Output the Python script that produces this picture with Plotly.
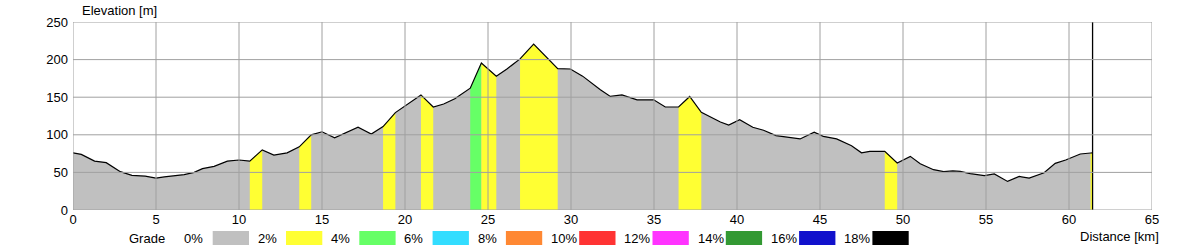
import plotly.graph_objects as go

# ---------------- data ----------------
dist_km = [0.0, 0.5, 1.3, 2.0, 2.85, 3.55, 4.35, 5.0, 5.5, 6.1, 6.7, 7.3, 7.8, 8.5, 9.3, 10.0,
           10.65, 11.4, 12.1, 12.9, 13.63, 14.35, 15.0, 15.76, 16.5, 17.17, 17.97, 18.68, 19.42,
           20.0, 20.96, 21.7, 22.33, 23.0, 23.93, 24.6, 25.5, 26.14, 26.93, 27.75, 29.2, 29.96,
           30.7, 31.77, 32.37, 33.07, 33.98, 34.98, 35.68, 36.48, 37.15, 37.85, 39.0, 39.5, 40.16,
           40.95, 41.6, 42.35, 43.3, 43.8, 44.65, 45.2, 46.0, 46.9, 47.5, 48.0, 48.9, 49.65,
           50.44, 51.04, 51.84, 52.45, 53.0, 53.45, 54.05, 54.9, 55.5, 56.3, 57.0, 57.6, 58.5,
           59.17, 59.8, 60.68, 61.3, 61.42]
elev_m = [76, 74, 65, 63, 51, 46, 45, 42.5, 44, 45, 47, 50, 55, 58, 65, 66.5,
          65, 80, 73, 76, 84, 100, 104, 96, 103, 110, 101, 111, 129.5,
          138, 153, 137, 141, 148, 162, 195.5, 178, 187.5, 201, 220.5, 188, 187.5,
          178, 160, 151, 153, 146.5, 146.5, 137, 137, 151, 130, 117, 113, 120,
          110, 106, 99, 96.5, 94.5, 103.5, 98, 94.5, 85.5, 76, 78, 78, 62.5,
          71.3, 61.6, 53.6, 51, 52, 51.4, 48.3, 45.6, 48, 38, 44.7, 42.5, 49.5,
          62, 66.5, 74.5, 75.8, 76]
# grade class of each interval between consecutive points (0: 0-2%, 1: 2-4%, 2: 4-6%, ...)
grade_class = [0, 0, 0, 0, 0, 0, 0, 0, 0, 0,   # intervals 0-9
               0, 0, 0, 0, 0, 0, 1, 0, 0, 0,   # 10-19
               1, 0, 0, 0, 0, 0, 0, 1, 0, 0,   # 20-29
               1, 0, 0, 0, 2, 1, 0, 0, 1, 1,   # 30-39
               0, 0, 0, 0, 0, 0, 0, 0, 0, 1,   # 40-49
               1, 0, 0, 0, 0, 0, 0, 0, 0, 0,   # 50-59
               0, 0, 0, 0, 0, 0, 1, 0, 0, 0,   # 60-69
               0, 0, 0, 0, 0, 0, 0, 0, 0, 0,   # 70-79
               0, 0, 0, 0, 1]                  # 80-84
grade_labels = ["0%", "2%", "4%", "6%", "8%", "10%", "12%", "14%", "16%", "18%"]
grade_colors = ["#C0C0C0", "#FFFF33", "#66FF66", "#33DDFF", "#FF8833",
                "#FF3333", "#FF33FF", "#339933", "#1111CC", "#000000"]
x_ticks = list(range(0, 66, 5))
y_ticks = list(range(0, 251, 50))

# ---------------- layout constants ----------------
ML, MR, MT, MB = 73, 48, 22, 40
W, H = 1200, 250
PW, PH = W - ML - MR, H - MT - MB
FONT = "Liberation Sans, Arial, sans-serif"
GRID = "#A0A0A0"


def px(xp):
    return (xp - ML) / PW


def py(yp):
    return (H - MB - yp) / PH


fig = go.Figure()

# base grey area
fig.add_trace(go.Scatter(x=dist_km, y=elev_m, mode="lines", fill="tozeroy",
                         fillcolor=grade_colors[0], line=dict(width=0, color=grade_colors[0]),
                         hoverinfo="skip", showlegend=False))

# coloured grade sections
i = 0
n = len(grade_class)
while i < n:
    c = grade_class[i]
    j = i
    while j + 1 < n and grade_class[j + 1] == c:
        j += 1
    if c != 0:
        xs = [dist_km[i]] + dist_km[i:j + 2] + [dist_km[j + 1]]
        ys = [0] + elev_m[i:j + 2] + [0]
        fig.add_trace(go.Scatter(x=xs, y=ys, mode="lines", fill="toself",
                                 fillcolor=grade_colors[c], line=dict(width=0, color=grade_colors[c]),
                                 hoverinfo="skip", showlegend=False))
    i = j + 1

# profile line
fig.add_trace(go.Scatter(x=dist_km, y=elev_m, mode="lines",
                         line=dict(color="black", width=1.2),
                         hoverinfo="skip", showlegend=False))
# end-of-route marker
fig.add_trace(go.Scatter(x=[dist_km[-1], dist_km[-1]], y=[0, y_ticks[-1]], mode="lines",
                         line=dict(color="black", width=1.3),
                         hoverinfo="skip", showlegend=False))

shapes = []
for xv in x_ticks:
    shapes.append(dict(type="line", xref="x", yref="y", x0=xv, x1=xv, y0=y_ticks[0], y1=y_ticks[-1],
                       line=dict(color=GRID, width=1), layer="above"))
for yv in y_ticks:
    shapes.append(dict(type="line", xref="x", yref="y", x0=x_ticks[0], x1=x_ticks[-1], y0=yv, y1=yv,
                       line=dict(color=GRID, width=1), layer="above"))

# grade legend (colour scale) below the plot
annotations = []
BOX0, STEP, BOXW = 212.7, 73.3, 36.3
BT, BB = 231, 245
annotations.append(dict(text="Grade", x=px(166.5), y=py(238), xref="paper", yref="paper",
                        xanchor="right", yanchor="middle", showarrow=False,
                        font=dict(family=FONT, size=13, color="black")))
for k, (lab, col) in enumerate(zip(grade_labels, grade_colors)):
    bx = BOX0 + k * STEP
    shapes.append(dict(type="rect", xref="paper", yref="paper", x0=px(bx), x1=px(bx + BOXW),
                       y0=py(BB), y1=py(BT), fillcolor=col, line=dict(width=0), layer="above"))
    annotations.append(dict(text=lab, x=px(bx - BOXW + 6), y=py(238), xref="paper", yref="paper",
                            xanchor="left", yanchor="middle", showarrow=False,
                            font=dict(family=FONT, size=13, color="black")))

annotations.append(dict(text="Elevation [m]", x=px(80), y=py(11), xref="paper", yref="paper",
                        xanchor="left", yanchor="middle", showarrow=False,
                        font=dict(family=FONT, size=13, color="black")))
annotations.append(dict(text="Distance [km]", x=px(1161), y=py(236), xref="paper", yref="paper",
                        xanchor="right", yanchor="middle", showarrow=False,
                        font=dict(family=FONT, size=13, color="black")))

fig.update_layout(
    width=W, height=H,
    margin=dict(l=ML, r=MR, t=MT, b=MB, pad=0),
    paper_bgcolor="white", plot_bgcolor="white",
    font=dict(family=FONT, size=13, color="black"),
    showlegend=False,
    shapes=shapes, annotations=annotations,
    xaxis=dict(range=[x_ticks[0], x_ticks[-1]], tickvals=x_ticks, showgrid=False, zeroline=False,
               showline=False, ticks="", tickfont=dict(family=FONT, size=13, color="black"),
               fixedrange=True),
    yaxis=dict(range=[y_ticks[0], y_ticks[-1]], tickvals=y_ticks, showgrid=False, zeroline=False,
               showline=False, ticks="", tickfont=dict(family=FONT, size=13, color="black"),
               ticklabelstandoff=4, fixedrange=True),
)

fig.write_html("out.html", config={"displayModeBar": False})
